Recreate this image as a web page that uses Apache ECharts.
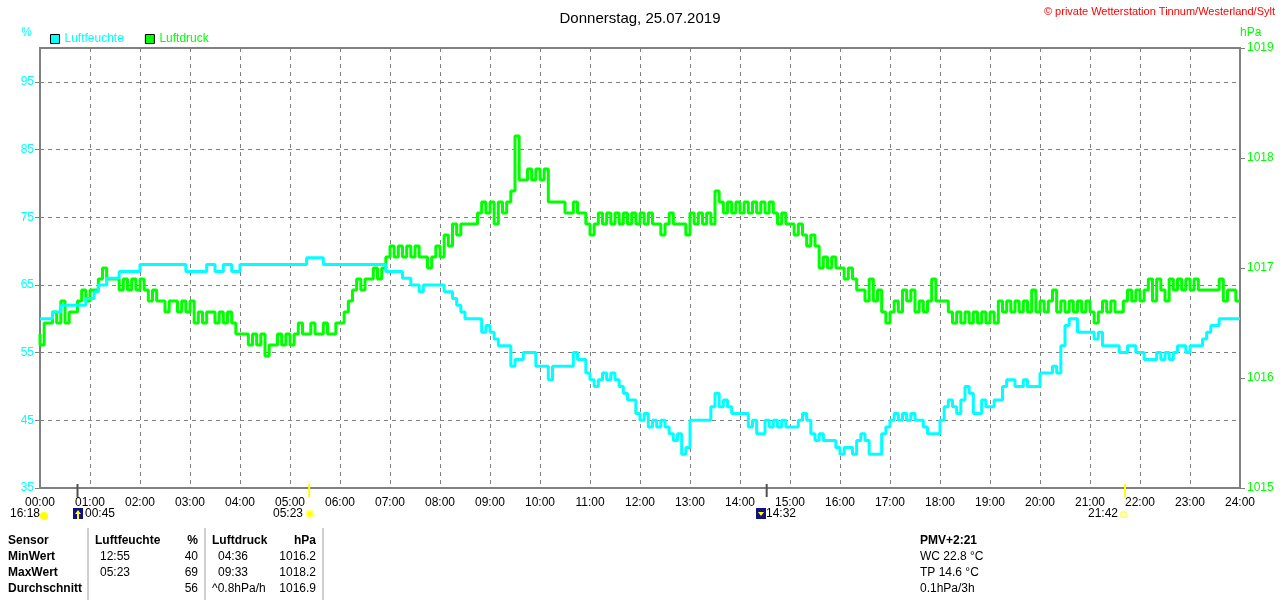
<!DOCTYPE html>
<html>
<head>
<meta charset="utf-8">
<script src="https://cdn.jsdelivr.net/npm/echarts@6/dist/echarts.min.js"></script>
<style>
  html, body { margin: 0; padding: 0; background: #fff; }
  #main { width: 1280px; height: 600px; }
</style>
</head>
<body>
<div id="main"></div>
<script>
// one reading every 5 minutes, 00:00 .. 24:00
const stepMinutes = 5;

const humidity = [
  60,60,60,60,61,61,62,62,62,62,62,62,
  63,63,64,65,65,66,66,66,67,67,67,67,
  67,68,68,68,68,68,68,68,68,68,68,68,
  67,67,67,67,67,68,68,67,67,68,68,67,
  67,68,68,68,68,68,68,68,68,68,68,68,
  68,68,68,68,68,69,69,69,69,68,68,68,
  68,68,68,68,68,68,68,68,68,68,68,68,
  67,67,67,67,66,66,65,65,64,65,65,65,
  65,65,64,64,63,62,61,60,60,60,60,58,
  59,58,57,56,56,56,53,54,54,55,55,55,
  53,53,53,51,53,53,53,53,53,55,54,54,
  52,51,50,51,52,51,52,51,50,49,48,48,
  46,45,46,44,45,44,45,44,43,42,43,40,
  41,45,45,45,45,45,47,49,47,48,47,46,
  46,46,46,44,45,43,43,45,44,45,44,45,
  44,44,44,45,46,45,43,42,43,42,42,42,
  41,40,41,41,40,42,43,42,40,40,40,43,
  44,45,46,45,46,45,46,45,45,44,43,43,
  43,45,47,48,47,46,48,50,49,46,46,48,
  47,47,48,48,50,51,51,50,50,51,50,50,
  50,52,52,52,53,52,56,59,60,60,58,58,
  58,58,57,58,56,56,56,56,55,55,56,56,
  55,55,54,54,54,55,54,55,54,55,56,56,
  55,56,56,56,57,58,59,59,60,60,60,60,
  60
];

const pressure = [
  1016.4,1016.3,1016.5,1016.5,1016.6,1016.5,1016.7,1016.5,1016.6,1016.6,1016.7,1016.8,
  1016.7,1016.8,1016.8,1016.9,1017.0,1016.9,1016.9,1016.9,1016.8,1016.9,1016.8,1016.9,
  1016.8,1016.9,1016.8,1016.7,1016.8,1016.7,1016.7,1016.6,1016.7,1016.7,1016.6,1016.7,
  1016.6,1016.7,1016.5,1016.6,1016.5,1016.6,1016.6,1016.5,1016.6,1016.5,1016.6,1016.5,
  1016.4,1016.4,1016.4,1016.3,1016.4,1016.3,1016.4,1016.2,1016.3,1016.3,1016.4,1016.3,
  1016.4,1016.3,1016.4,1016.5,1016.4,1016.4,1016.5,1016.4,1016.4,1016.5,1016.4,1016.4,
  1016.5,1016.5,1016.6,1016.7,1016.8,1016.9,1016.8,1016.9,1016.9,1017.0,1016.9,1017.0,
  1017.1,1017.2,1017.1,1017.2,1017.1,1017.2,1017.1,1017.2,1017.1,1017.1,1017.0,1017.1,
  1017.2,1017.1,1017.3,1017.2,1017.4,1017.3,1017.4,1017.4,1017.4,1017.4,1017.5,1017.6,
  1017.5,1017.6,1017.4,1017.6,1017.5,1017.6,1017.7,1018.2,1017.8,1017.8,1017.9,1017.8,
  1017.9,1017.8,1017.9,1017.6,1017.6,1017.6,1017.6,1017.5,1017.5,1017.6,1017.5,1017.5,
  1017.4,1017.3,1017.4,1017.5,1017.4,1017.5,1017.4,1017.5,1017.4,1017.5,1017.4,1017.5,
  1017.4,1017.5,1017.4,1017.5,1017.4,1017.4,1017.3,1017.4,1017.5,1017.4,1017.4,1017.4,
  1017.3,1017.5,1017.4,1017.5,1017.4,1017.5,1017.4,1017.7,1017.6,1017.5,1017.6,1017.5,
  1017.6,1017.5,1017.6,1017.5,1017.6,1017.5,1017.6,1017.5,1017.6,1017.5,1017.4,1017.5,
  1017.4,1017.4,1017.3,1017.4,1017.3,1017.2,1017.3,1017.2,1017.0,1017.1,1017.0,1017.1,
  1017.0,1017.0,1016.9,1017.0,1016.9,1016.8,1016.8,1016.7,1016.9,1016.7,1016.8,1016.6,
  1016.5,1016.6,1016.7,1016.6,1016.8,1016.7,1016.8,1016.6,1016.7,1016.6,1016.7,1016.9,
  1016.7,1016.7,1016.7,1016.6,1016.5,1016.6,1016.5,1016.6,1016.5,1016.6,1016.5,1016.6,
  1016.5,1016.6,1016.5,1016.7,1016.6,1016.7,1016.6,1016.7,1016.6,1016.7,1016.6,1016.8,
  1016.6,1016.7,1016.6,1016.7,1016.8,1016.6,1016.7,1016.6,1016.7,1016.6,1016.7,1016.6,
  1016.7,1016.6,1016.5,1016.6,1016.7,1016.6,1016.7,1016.6,1016.6,1016.7,1016.8,1016.7,
  1016.8,1016.7,1016.8,1016.9,1016.7,1016.9,1016.8,1016.7,1016.9,1016.8,1016.9,1016.8,
  1016.9,1016.8,1016.9,1016.8,1016.8,1016.8,1016.8,1016.8,1016.9,1016.7,1016.8,1016.8,
  1016.7
];

// sun / moon events shown under the time axis
const eventMinutes = [45, 323, 872, 1302];
const eventColors = ['#505050', '#ffff00', '#505050', '#ffff00'];

// statistics table
const tableRowNames = ['Sensor', 'MinWert', 'MaxWert', 'Durchschnitt'];
const humTimes = ['Luftfeuchte', '12:55', '05:23', ''];
const humValues = ['%', '40', '69', '56'];
const presTimes = ['Luftdruck', '04:36', '09:33', '^0.8hPa/h'];
const presValues = ['hPa', '1016.2', '1018.2', '1016.9'];
const extraInfo = ['PMV+2:21', 'WC 22.8 °C', 'TP 14.6 °C', '0.1hPa/3h'];

const CYAN = '#00ffff';
const GREEN = '#00ff00';
const GRAY = '#808080';
const FONT = 'Liberation Sans, Arial, sans-serif';

const humData = humidity.map((v, i) => [i * stepMinutes, v]);
const presData = pressure.map((v, i) => [i * stepMinutes, v]);

function pad(n) { return (n < 10 ? '0' : '') + n; }

const chart = echarts.init(document.getElementById('main'));
chart.setOption({
  animation: false,
  backgroundColor: '#fff',
  title: {
    text: 'Donnerstag, 25.07.2019',
    left: 'center',
    top: 6,
    textStyle: { color: '#000', fontSize: 15, fontWeight: 'normal', fontFamily: FONT }
  },
  legend: {
    left: 45,
    top: 28,
    padding: 5,
    icon: 'rect',
    itemWidth: 9,
    itemHeight: 9,
    itemGap: 21,
    itemStyle: { borderColor: '#000', borderWidth: 1 },
    textStyle: { fontSize: 12, fontFamily: FONT },
    data: [
      { name: 'Luftfeuchte', textStyle: { color: CYAN } },
      { name: 'Luftdruck', textStyle: { color: GREEN } }
    ]
  },
  grid: {
    left: 40, right: 40, top: 48, bottom: 112,
    show: true, borderColor: GRAY, borderWidth: 2, backgroundColor: '#fff'
  },
  xAxis: {
    type: 'value',
    min: 0, max: 1440, interval: 60,
    axisLine: { show: true, lineStyle: { color: GRAY, width: 2 } },
    axisTick: { show: false },
    axisLabel: {
      color: '#000', fontSize: 12, fontFamily: FONT, margin: 9,
      formatter: v => pad(v / 60) + ':00'
    },
    splitLine: { show: true, lineStyle: { color: GRAY, type: [4, 4], width: 1 } }
  },
  yAxis: [
    {
      // humidity scale for the data
      type: 'value', min: 35, max: 100, position: 'left',
      axisLine: { show: false }, axisTick: { show: false },
      axisLabel: { show: false }, splitLine: { show: false }
    },
    {
      type: 'value', min: 1015, max: 1019, interval: 1, position: 'right',
      name: 'hPa',
      nameGap: 9,
      nameTextStyle: { color: GREEN, fontSize: 12, fontFamily: FONT, align: 'left', padding: [0, 0, 0, 0] },
      axisLine: { show: true, lineStyle: { color: GRAY, width: 2 } },
      axisTick: { show: true, length: 5, lineStyle: { color: GRAY } },
      axisLabel: { color: GREEN, fontSize: 12, fontFamily: FONT, margin: 7, formatter: v => String(v) },
      splitLine: { show: false }
    },
    {
      // humidity ticks 35..95 drawn on a shifted helper scale (0 = 35 %)
      type: 'value', min: 0, max: 65, interval: 10, position: 'left',
      name: '%',
      nameGap: 9,
      nameTextStyle: { color: CYAN, fontSize: 12, fontFamily: FONT, align: 'right', padding: [0, 8, 0, 0] },
      axisLine: { show: true, lineStyle: { color: GRAY, width: 2 } },
      axisTick: { show: true, length: 5, lineStyle: { color: GRAY } },
      axisLabel: {
        color: CYAN, fontSize: 12, fontFamily: FONT, margin: 6, showMaxLabel: false,
        formatter: v => (v > 60 ? '' : String(v + 35))
      },
      splitLine: { show: true, lineStyle: { color: GRAY, type: [4, 4], width: 1 } }
    }
  ],
  series: [
    {
      name: 'Luftdruck', type: 'line', yAxisIndex: 1, data: presData,
      step: 'start', showSymbol: false, symbol: 'rect',
      itemStyle: { color: GREEN }, lineStyle: { color: GREEN, width: 3 }, z: 3
    },
    {
      name: 'Luftfeuchte', type: 'line', yAxisIndex: 0, data: humData,
      step: 'start', showSymbol: false, symbol: 'rect',
      itemStyle: { color: CYAN }, lineStyle: { color: CYAN, width: 3 }, z: 4
    }
  ]
});

// decorations: event ticks, event times and the statistics table
const g = [];
const axisY = chart.convertToPixel({ yAxisIndex: 1 }, 1015);
eventMinutes.forEach((m, i) => {
  const x = chart.convertToPixel({ xAxisIndex: 0 }, m);
  g.push({ type: 'line', shape: { x1: x, y1: axisY - 4, x2: x, y2: axisY + 9 },
           style: { stroke: eventColors[i], lineWidth: 2 }, z: 10 });
});

function txt(x, y, s, opts) {
  g.push({ type: 'text', x: x, y: y, z: 10, style: Object.assign({
    text: s, fill: '#000', font: '12px ' + FONT, textVerticalAlign: 'middle'
  }, opts || {}) });
}

// event times below the axis
txt(10, 514, '16:18');
g.push({ type: 'circle', shape: { cx: 44, cy: 516, r: 4 }, style: { fill: '#ffff00' }, z: 10 });
g.push({ type: 'rect', shape: { x: 73, y: 508, width: 10, height: 11 }, style: { fill: '#101080' }, z: 10 });
g.push({ type: 'polygon', shape: { points: [[78, 510], [75, 514], [81, 514]] }, style: { fill: '#ffff00' }, z: 11 });
g.push({ type: 'rect', shape: { x: 77, y: 514, width: 2, height: 5 }, style: { fill: '#ffff00' }, z: 11 });
txt(85, 514, '00:45');
txt(303, 514, '05:23', { textAlign: 'right' });
g.push({ type: 'circle', shape: { cx: 310, cy: 514, r: 3.5 }, style: { fill: '#ffff00', stroke: '#ffff80', lineWidth: 2 }, z: 10 });
g.push({ type: 'rect', shape: { x: 756, y: 508, width: 10, height: 11 }, style: { fill: '#101080' }, z: 10 });
g.push({ type: 'polygon', shape: { points: [[761, 516], [758, 512], [764, 512]] }, style: { fill: '#ffff00' }, z: 11 });
txt(766, 514, '14:32');
txt(1118, 514, '21:42', { textAlign: 'right' });
g.push({ type: 'rect', shape: { x: 1121, y: 512, width: 5, height: 5 }, style: { fill: 'none', stroke: '#ffff00', lineWidth: 1 }, z: 10 });

// table
const rowY = [541, 557, 573, 589];
[88, 205, 323].forEach(x => {
  g.push({ type: 'line', shape: { x1: x, y1: 528, x2: x, y2: 600 }, style: { stroke: '#a0a0a0', lineWidth: 1 }, z: 10 });
});
rowY.forEach((y, r) => {
  const bold = { font: 'bold 12px ' + FONT };
  const head = r === 0 ? bold : {};
  txt(8, y, tableRowNames[r], bold);
  txt(r === 0 ? 95 : 100, y, humTimes[r], head);
  txt(198, y, humValues[r], Object.assign({ textAlign: 'right' }, head));
  txt(r === 0 || r === 3 ? 212 : 218, y, presTimes[r], head);
  txt(316, y, presValues[r], Object.assign({ textAlign: 'right' }, head));
  txt(920, y, extraInfo[r], r === 0 ? bold : {});
});

// copyright
txt(1275, 12, '© private Wetterstation Tinnum/Westerland/Sylt', { fill: '#ff0000', textAlign: 'right', font: '11px ' + FONT });

chart.setOption({ graphic: g });
</script>
</body>
</html>
